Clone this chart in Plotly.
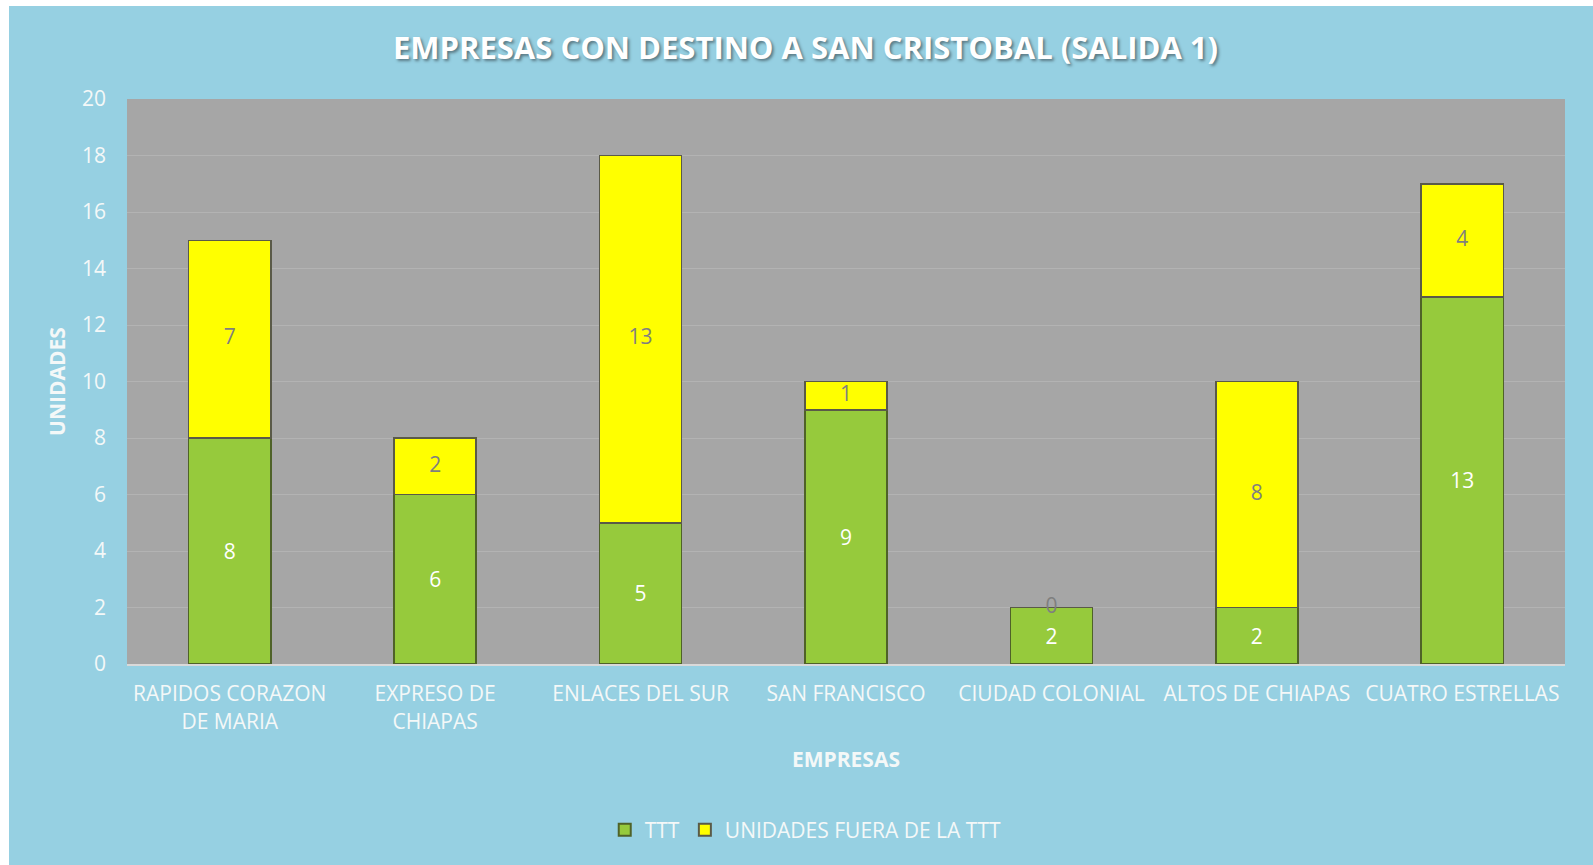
import plotly.graph_objects as go

categories = ["RAPIDOS CORAZON<br>DE MARIA", "EXPRESO DE<br>CHIAPAS", "ENLACES DEL SUR",
              "SAN FRANCISCO", "CIUDAD COLONIAL", "ALTOS DE CHIAPAS", "CUATRO ESTRELLAS"]
ttt = [8, 6, 5, 9, 2, 2, 13]
fuera = [7, 2, 13, 1, 0, 8, 4]
y_ticks = [0, 2, 4, 6, 8, 10, 12, 14, 16, 18, 20]

FONT = "Open Sans"
BG = "#96d0e2"
TXT = "#f4f8f8"
FS = 21

fig = go.Figure()
fig.add_trace(go.Bar(
    name="TTT", x=categories, y=ttt,
    marker=dict(color="#96ca3c", line=dict(color="#4f6228", width=1.5)),
    text=ttt, textposition="inside", insidetextanchor="middle",
    textfont=dict(family=FONT, size=FS, color="#ffffff"),
    hoverinfo="skip",
))
fig.add_trace(go.Bar(
    name="UNIDADES FUERA DE LA TTT", x=categories, y=fuera,
    marker=dict(color="#ffff00", line=dict(color="#5a5a48", width=1.5)),
    hoverinfo="skip",
))
fig.add_trace(go.Scatter(
    x=categories, y=[a + b / 2 for a, b in zip(ttt, fuera)],
    text=[str(v) for v in fuera], mode="text",
    textfont=dict(family=FONT, size=FS, color="#7f7f7f"),
    showlegend=False, hoverinfo="skip",
))

W, H = 1593, 865
L, R, T, B = 118, 37, 93, 207
pw, ph = W - L - R, H - T - B

fig.update_layout(
    width=W, height=H, barmode="stack", bargap=0.6,
    margin=dict(l=L, r=R, t=T, b=B, autoexpand=False),
    paper_bgcolor=BG, plot_bgcolor="#a6a6a6",
    font=dict(family=FONT, size=FS, color=TXT),
    title=dict(text="EMPRESAS CON DESTINO A SAN CRISTOBAL (SALIDA 1)",
               x=0.5, xanchor="center", y=1 - 42 / H, yanchor="middle", yref="container",
               font=dict(family=FONT, size=31, color="#ffffff", weight="bold",
                         shadow="2px 2px 3px #5a7a85")),
    legend=dict(orientation="h", x=0.472, xanchor="center", y=-166 / ph,
                yanchor="middle", font=dict(family=FONT, size=FS, color=TXT),
                bgcolor="rgba(0,0,0,0)", itemsizing="constant", traceorder="normal"),
    xaxis=dict(title=dict(text="EMPRESAS", font=dict(family=FONT, size=FS, color=TXT, weight="bold"),
                          standoff=19),
               tickfont=dict(family=FONT, size=FS, color=TXT),
               showline=True, linecolor="#d9d9d9", linewidth=2, ticks="", automargin=False,
               ticklabelstandoff=10),
    yaxis=dict(title=dict(text="UNIDADES", font=dict(family=FONT, size=FS, color=TXT, weight="bold"),
                          standoff=10),
               range=[0, 20], tickvals=y_ticks, tickfont=dict(family=FONT, size=FS, color=TXT),
               gridcolor="#b3b3b3", gridwidth=1, zeroline=False, ticks="", automargin=False,
               ticklabelstandoff=20),
    showlegend=True,
)
page_js = ("document.body.style.margin='6px 0 0 9px';"
           "document.documentElement.style.overflow='hidden';"
           "document.body.style.overflow='hidden';")
fig.write_html("out.html", post_script=page_js)
